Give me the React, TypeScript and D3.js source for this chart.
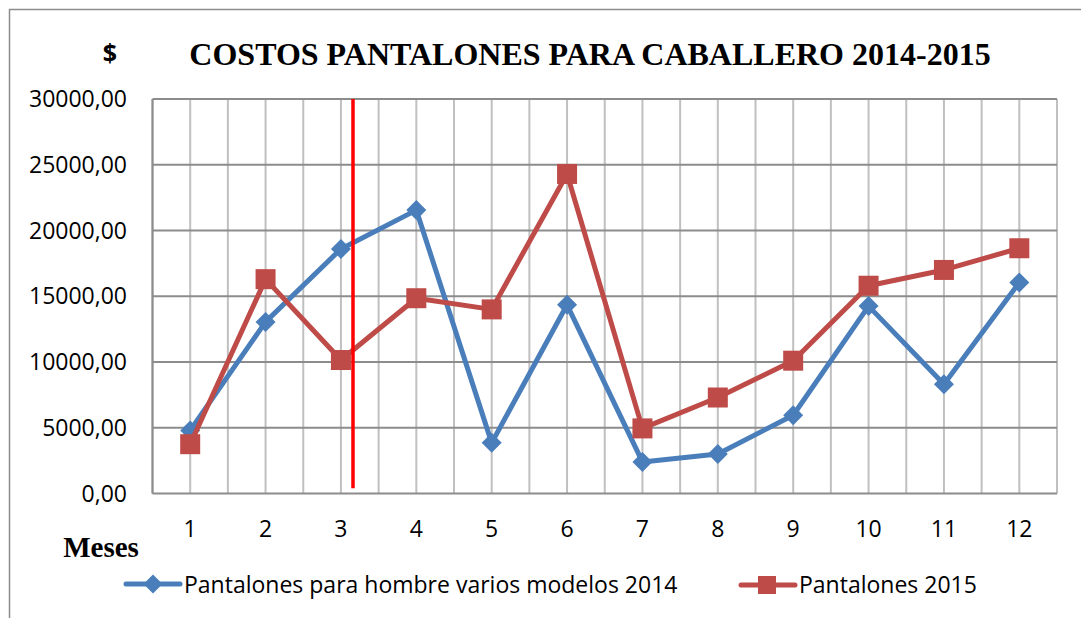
import React from 'react';
import * as d3 from 'd3';

// datos
const months = ['1', '2', '3', '4', '5', '6', '7', '8', '9', '10', '11', '12'];
const pantalones2014 = [4800, 13050, 18600, 21550, 3850, 14350, 2400, 3000, 5950, 14250, 8300, 16050];
const pantalones2015 = [3750, 16300, 10150, 14850, 14000, 24300, 4950, 7300, 10100, 15800, 17000, 18650];
const yTicks = [0, 5000, 10000, 15000, 20000, 25000, 30000];
const seriesNames = ['Pantalones para hombre varios modelos 2014', 'Pantalones 2015'];
const markerMonth = 3.16; // línea roja vertical
const markerBottom = 400;

const W = 1081;
const H = 618;
const plot = { left: 152.5, right: 1057, top: 99, bottom: 493.5 };

const blue = '#4a7ebb';
const red = '#be4b48';
const sans = '"Open Sans", Calibri, sans-serif';
const serif = '"Liberation Serif", "Times New Roman", serif';

const fmt = (v: number) => d3.format('.2f')(v).replace('.', ',');

export default function App() {
  const x = d3.scaleBand<string>().domain(months).range([plot.left, plot.right]).padding(0);
  const bw = x.bandwidth();
  const cx = (m: string) => (x(m) as number) + bw / 2;
  const xLin = d3.scaleLinear().domain([0.5, 12.5]).range([plot.left, plot.right]);
  const y = d3.scaleLinear().domain([0, 30000]).range([plot.bottom, plot.top]);

  const line = d3.line<number>()
    .x((_, i) => cx(months[i]))
    .y(d => y(d));

  const vGrid = d3.range(0, months.length * 2 + 1).map(k => plot.left + (k * bw) / 2);

  const diamond = (px: number, py: number, r: number) =>
    `M${px},${py - r}L${px + r},${py}L${px},${py + r}L${px - r},${py}Z`;

  return (
    <svg width={W} height={H} style={{ position: 'absolute', left: 0, top: 0, background: '#fff' }}>
      <rect x={9.5} y={9.5} width={1200} height={800} fill="#fff" stroke="#8c8c8c" strokeWidth={1.5} />

      {/* título */}
      <text x={590} y={65} textAnchor="middle" fontFamily={serif} fontWeight="bold" fontSize={32} fill="#000">
        COSTOS PANTALONES PARA CABALLERO 2014-2015
      </text>
      <text x={110} y={62} textAnchor="middle" fontFamily={sans} fontWeight="bold" fontSize={25} fill="#000">$</text>

      {/* rejilla */}
      {vGrid.map((gx, i) => (
        <line key={'v' + i} x1={gx} x2={gx} y1={plot.top} y2={plot.bottom} stroke="#c0c0c0" strokeWidth={2} />
      ))}
      {yTicks.map(t => (
        <line key={'h' + t} x1={plot.left} x2={plot.right} y1={y(t)} y2={y(t)} stroke="#8c8c8c" strokeWidth={2} />
      ))}
      <line x1={plot.left} x2={plot.left} y1={plot.top} y2={plot.bottom} stroke="#8c8c8c" strokeWidth={2} />

      {/* eje Y */}
      {yTicks.map(t => (
        <text key={'yt' + t} x={127} y={y(t)} dy="0.35em" textAnchor="end" fontFamily={sans} fontSize={23} fill="#000">
          {fmt(t)}
        </text>
      ))}
      {/* eje X */}
      {months.map(m => (
        <text key={'xt' + m} x={cx(m)} y={537} textAnchor="middle" fontFamily={sans} fontSize={23} fill="#000">
          {m}
        </text>
      ))}
      <text x={101} y={557} textAnchor="middle" fontFamily={serif} fontWeight="bold" fontSize={29} fill="#000">Meses</text>

      {/* series */}
      <path d={line(pantalones2014) || ''} fill="none" stroke={blue} strokeWidth={5} strokeLinejoin="round" />
      {pantalones2014.map((v, i) => (
        <path key={'b' + i} d={diamond(cx(months[i]), y(v), 10)} fill={blue} />
      ))}
      <path d={line(pantalones2015) || ''} fill="none" stroke={red} strokeWidth={5} strokeLinejoin="round" />
      {pantalones2015.map((v, i) => (
        <rect key={'r' + i} x={cx(months[i]) - 10} y={y(v) - 10} width={20} height={20} fill={red} />
      ))}

      {/* línea roja */}
      <line x1={xLin(markerMonth)} x2={xLin(markerMonth)} y1={y(30000)} y2={y(markerBottom)} stroke="#ff0000" strokeWidth={3.5} />

      {/* leyenda */}
      <g>
        <line x1={126} x2={180} y1={584} y2={584} stroke={blue} strokeWidth={5} strokeLinecap="round" />
        <path d={diamond(153, 584, 9.5)} fill={blue} />
        <text x={184} y={593} fontFamily={sans} fontSize={23} fill="#000">{seriesNames[0]}</text>
      </g>
      <g>
        <line x1={741} x2={795} y1={585} y2={585} stroke={red} strokeWidth={5} strokeLinecap="round" />
        <rect x={758} y={576} width={18} height={18} fill={red} />
        <text x={799} y={593} fontFamily={sans} fontSize={23} fill="#000">{seriesNames[1]}</text>
      </g>
    </svg>
  );
}
